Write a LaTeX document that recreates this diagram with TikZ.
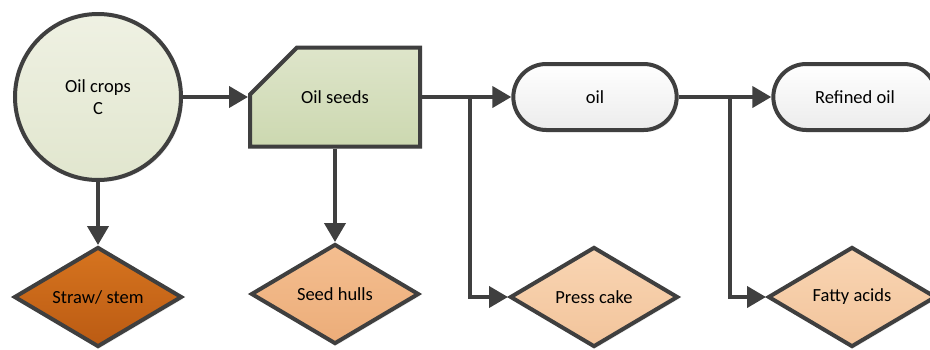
\documentclass[tikz,border=0pt]{standalone}
\usepackage{fontspec}
\setmainfont{Carlito}
\usetikzlibrary{arrows.meta}
\usetikzlibrary{shapes.geometric,shapes.misc,shadows}
\usetikzlibrary{positioning,calc}

\definecolor{edge}{HTML}{3F3F3F}
\definecolor{cropTop}{HTML}{EFF1E3}
\definecolor{cropBot}{HTML}{E1E6CE}
\definecolor{seedTop}{HTML}{DEE5CA}
\definecolor{seedBot}{HTML}{CCD8B0}
\definecolor{strawTop}{HTML}{D6741F}
\definecolor{strawBot}{HTML}{BB5B13}
\definecolor{hullTop}{HTML}{F4BE90}
\definecolor{hullBot}{HTML}{ECAD79}
\definecolor{cakeTop}{HTML}{F9D5B3}
\definecolor{cakeBot}{HTML}{F2C49B}

\begin{document}
\begin{tikzpicture}[x=1pt,y=-1pt,line width=4pt,
    every node/.style={draw=edge,font=\fontsize{18.5}{22}\selectfont,align=center,
        drop shadow={shadow xshift=2pt,shadow yshift=-2pt,opacity=0.12}},
    source/.style={circle,minimum size=166pt,top color=cropTop,bottom color=cropBot},
    seedbox/.style={chamfered rectangle,chamfered rectangle corners=north west,
        chamfered rectangle xsep=40pt,chamfered rectangle ysep=38pt,
        minimum width=170pt,minimum height=99pt,top color=seedTop,bottom color=seedBot},
    product/.style={rounded rectangle,minimum width=170pt,minimum height=66pt,top color=white,bottom color=gray!15},
    waste/.style={diamond,aspect=1.68,minimum width=168pt,minimum height=100pt,inner sep=0pt},
    flow/.style={draw=edge,-{Triangle[length=19pt,width=21pt]}}]
    \useasboundingbox (0,0) rectangle (930,349);
    \clip (0,0) rectangle (930,349);

    % main line
    \node[source] (crops) at (98,97) {Oil crops\\C};
    \node[seedbox] (seeds) at (335,97) {Oil seeds};
    \node[product] (oil) at (595,97) {oil};
    \node[product] (refined) at (855,97) {Refined oil};

    % side products
    \node[waste,top color=strawTop,bottom color=strawBot] (straw) at (98,297) {Straw/ stem};
    \node[waste,top color=hullTop,bottom color=hullBot] (hulls) at (335,294) {Seed hulls};
    \node[waste,top color=cakeTop,bottom color=cakeBot] (cake) at (594,297) {Press cake};
    \node[waste,top color=cakeTop,bottom color=cakeBot] (acids) at (852,297) {Fatty acids};

    \coordinate (split1) at (470,97);
    \coordinate (split2) at (730,97);

    \draw[flow] (crops.east) -- (seeds.west);
    \draw[flow] (seeds.east) -- (oil.west);
    \draw[flow] (oil.east) -- (refined.west);
    \draw[flow] (crops.south) -- (straw.north);
    \draw[flow] (seeds.south) -- (hulls.north);
    \draw[flow] (split1) |- (cake.west);
    \draw[flow] (split2) |- (acids.west);
\end{tikzpicture}
\end{document}
